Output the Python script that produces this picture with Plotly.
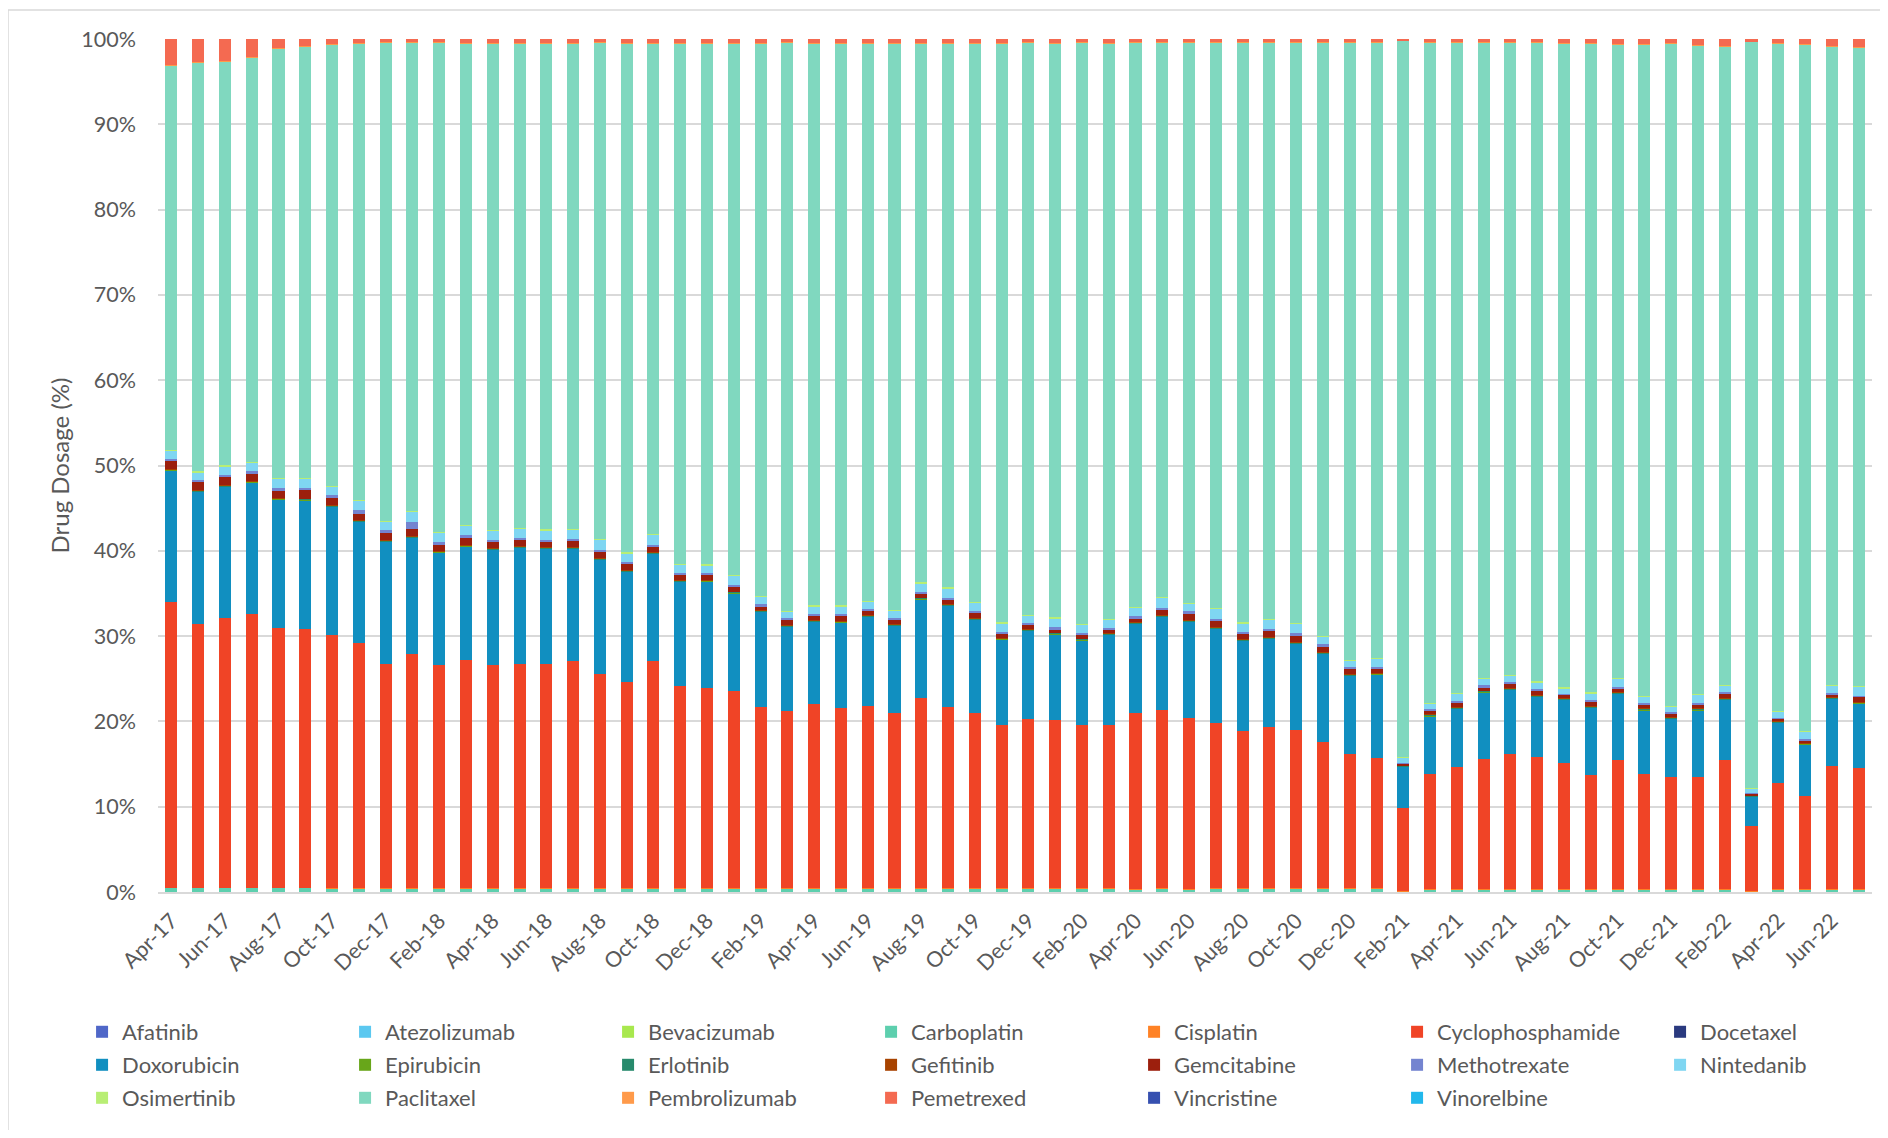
import plotly.graph_objects as go

months = ["Apr-17", "May-17", "Jun-17", "Jul-17", "Aug-17", "Sep-17", "Oct-17", "Nov-17", "Dec-17",
          "Jan-18", "Feb-18", "Mar-18", "Apr-18", "May-18", "Jun-18", "Jul-18", "Aug-18", "Sep-18",
          "Oct-18", "Nov-18", "Dec-18", "Jan-19", "Feb-19", "Mar-19", "Apr-19", "May-19", "Jun-19",
          "Jul-19", "Aug-19", "Sep-19", "Oct-19", "Nov-19", "Dec-19", "Jan-20", "Feb-20", "Mar-20",
          "Apr-20", "May-20", "Jun-20", "Jul-20", "Aug-20", "Sep-20", "Oct-20", "Nov-20", "Dec-20",
          "Jan-21", "Feb-21", "Mar-21", "Apr-21", "May-21", "Jun-21", "Jul-21", "Aug-21", "Sep-21",
          "Oct-21", "Nov-21", "Dec-21", "Jan-22", "Feb-22", "Mar-22", "Apr-22", "May-22", "Jun-22",
          "Jul-22"]

# % of monthly dosage per drug
afatinib = [0, 0, 0, 0, 0, 0, 0, 0, 0, 0, 0, 0, 0, 0, 0, 0, 0, 0, 0, 0, 0, 0, 0, 0, 0, 0, 0, 0, 0, 0, 0, 0,
            0, 0, 0, 0, 0, 0, 0, 0, 0, 0, 0, 0, 0, 0, 0, 0, 0, 0, 0, 0, 0, 0, 0, 0, 0, 0, 0, 0, 0, 0, 0, 0]
atezolizumab = [0, 0, 0, 0, 0, 0, 0, 0, 0, 0, 0, 0, 0, 0, 0, 0, 0, 0, 0, 0, 0, 0, 0, 0, 0, 0, 0, 0, 0, 0, 0, 0,
                0, 0, 0, 0, 0, 0, 0, 0, 0, 0, 0, 0, 0, 0, 0, 0, 0, 0, 0, 0, 0, 0, 0, 0, 0, 0, 0, 0, 0, 0, 0, 0]
bevacizumab = [0, 0, 0, 0, 0, 0, 0, 0, 0, 0, 0, 0, 0, 0, 0, 0, 0, 0, 0, 0, 0, 0, 0, 0, 0, 0, 0, 0, 0, 0, 0, 0,
               0, 0, 0, 0, 0, 0, 0, 0, 0, 0, 0, 0, 0, 0, 0, 0, 0, 0, 0, 0, 0, 0, 0, 0, 0, 0, 0, 0, 0, 0, 0, 0]
carboplatin = [0.5, 0.5, 0.5, 0.5, 0.5, 0.5, 0.4, 0.4, 0.4, 0.4, 0.4, 0.4, 0.4, 0.4, 0.4, 0.4,
               0.4, 0.4, 0.4, 0.4, 0.4, 0.4, 0.4, 0.4, 0.4, 0.4, 0.4, 0.4, 0.4, 0.4, 0.4, 0.4,
               0.4, 0.4, 0.4, 0.4, 0.3, 0.4, 0.3, 0.4, 0.4, 0.4, 0.4, 0.4, 0.4, 0.4, 0.1, 0.3,
               0.3, 0.3, 0.3, 0.3, 0.3, 0.3, 0.3, 0.3, 0.3, 0.3, 0.3, 0.1, 0.3, 0.3, 0.3, 0.3]
cisplatin = [0.02, 0.02, 0.02, 0.02, 0.02, 0.02, 0.02, 0.02, 0.02, 0.02, 0.02, 0.02, 0.02, 0.02, 0.02, 0.02,
             0.02, 0.02, 0.02, 0.02, 0.02, 0.02, 0.02, 0.02, 0.02, 0.02, 0.02, 0.02, 0.02, 0.02, 0.02, 0.02,
             0.02, 0.02, 0.02, 0.02, 0.02, 0.02, 0.02, 0.02, 0.02, 0.02, 0.02, 0.02, 0.02, 0.02, 0.01, 0.02,
             0.02, 0.02, 0.02, 0.02, 0.02, 0.02, 0.02, 0.02, 0.02, 0.02, 0.02, 0.01, 0.02, 0.02, 0.02, 0.02]
cyclophosphamide = [33.4, 30.9, 31.6, 32.1, 30.4, 30.3, 29.7, 28.7, 26.3, 27.5,
                    26.2, 26.8, 26.2, 26.3, 26.3, 26.7, 25.1, 24.2, 26.6, 23.7,
                    23.5, 23.1, 21.3, 20.8, 21.6, 21.1, 21.4, 20.6, 22.3, 21.2,
                    20.6, 19.2, 19.9, 19.7, 19.2, 19.1, 20.6, 20.9, 20.1, 19.4,
                    18.5, 18.9, 18.6, 17.1, 15.8, 15.3, 9.7, 13.5, 14.3, 15.3,
                    15.8, 15.5, 14.8, 13.4, 15.1, 13.5, 13.2, 13.1, 15.1, 7.6,
                    12.4, 10.9, 14.5, 14.2]
docetaxel = [0, 0, 0, 0, 0, 0, 0, 0, 0, 0, 0, 0, 0, 0, 0, 0, 0, 0, 0, 0, 0, 0, 0, 0, 0, 0, 0, 0, 0, 0, 0, 0,
             0, 0, 0, 0, 0, 0, 0, 0, 0, 0, 0, 0, 0, 0, 0, 0, 0, 0, 0, 0, 0, 0, 0, 0, 0, 0, 0, 0, 0, 0, 0, 0]
doxorubicin = [15.5, 15.5, 15.4, 15.4, 15.1, 15.1, 15.0, 14.3, 14.3, 13.6,
               13.2, 13.3, 13.5, 13.6, 13.5, 13.1, 13.4, 12.9, 12.6, 12.2,
               12.5, 11.5, 11.1, 9.9, 9.7, 10.1, 10.4, 10.2, 11.6, 11.9,
               10.9, 10.0, 10.3, 10.1, 9.9, 10.6, 10.5, 10.9, 11.3, 11.0,
               10.5, 10.4, 10.1, 10.4, 9.1, 9.8, 4.9, 6.8, 6.9, 7.8,
               7.6, 7.1, 7.4, 7.9, 7.8, 7.5, 6.8, 7.9, 7.1, 3.5,
               7.1, 6.1, 7.9, 7.6]
epirubicin = [0.03, 0.03, 0.03, 0.03, 0.03, 0.03, 0.03, 0.03, 0.03, 0.03, 0.03, 0.03, 0.03, 0.03, 0.03, 0.03,
              0.03, 0.03, 0.03, 0.03, 0.03, 0.03, 0.03, 0.03, 0.03, 0.03, 0.03, 0.03, 0.03, 0.03, 0.03, 0.03,
              0.03, 0.03, 0.03, 0.03, 0.03, 0.03, 0.03, 0.03, 0.03, 0.03, 0.03, 0.03, 0.03, 0.03, 0.02, 0.03,
              0.03, 0.03, 0.03, 0.03, 0.03, 0.03, 0.03, 0.03, 0.03, 0.03, 0.03, 0.02, 0.03, 0.03, 0.03, 0.03]
erlotinib = [0.1, 0.1, 0.1, 0.1, 0.1, 0.1, 0.1, 0.1, 0.1, 0.1, 0.1, 0.1, 0.1, 0.1, 0.1, 0.1,
             0.1, 0.1, 0.1, 0.1, 0.1, 0.1, 0.1, 0.1, 0.1, 0.1, 0.1, 0.1, 0.1, 0.1, 0.1, 0.1,
             0.1, 0.1, 0.1, 0.1, 0.1, 0.1, 0.1, 0.1, 0.1, 0.1, 0.1, 0.1, 0.1, 0.1, 0.05, 0.1,
             0.1, 0.1, 0.1, 0.1, 0.1, 0.1, 0.1, 0.1, 0.1, 0.1, 0.1, 0.05, 0.1, 0.1, 0.1, 0.1]
gefitinib = [0.05, 0.05, 0.05, 0.05, 0.05, 0.05, 0.05, 0.05, 0.05, 0.05, 0.05, 0.05, 0.05, 0.05, 0.05, 0.05,
             0.05, 0.05, 0.05, 0.05, 0.05, 0.05, 0.05, 0.05, 0.05, 0.05, 0.05, 0.05, 0.05, 0.05, 0.05, 0.05,
             0.05, 0.05, 0.05, 0.05, 0.05, 0.05, 0.05, 0.05, 0.05, 0.05, 0.05, 0.05, 0.05, 0.05, 0.02, 0.05,
             0.05, 0.05, 0.05, 0.05, 0.05, 0.05, 0.05, 0.05, 0.05, 0.05, 0.05, 0.02, 0.05, 0.05, 0.05, 0.05]
gemcitabine = [0.9, 0.9, 1.0, 0.8, 0.8, 1.0, 0.9, 0.7, 0.9, 0.8,
               0.7, 0.8, 0.8, 0.7, 0.7, 0.8, 0.8, 0.7, 0.7, 0.7,
               0.6, 0.6, 0.5, 0.6, 0.5, 0.6, 0.5, 0.5, 0.5, 0.5,
               0.6, 0.5, 0.5, 0.4, 0.5, 0.4, 0.5, 0.6, 0.7, 0.8,
               0.7, 0.7, 0.8, 0.7, 0.7, 0.5, 0.25, 0.5, 0.5, 0.4,
               0.5, 0.5, 0.4, 0.5, 0.4, 0.5, 0.4, 0.5, 0.5, 0.2,
               0.3, 0.3, 0.3, 0.6]
methotrexate = [0.2, 0.3, 0.2, 0.3, 0.3, 0.2, 0.3, 0.4, 0.3, 0.9,
                0.3, 0.3, 0.2, 0.3, 0.2, 0.2, 0.2, 0.3, 0.2, 0.2,
                0.2, 0.2, 0.2, 0.2, 0.2, 0.2, 0.3, 0.2, 0.2, 0.3,
                0.2, 0.2, 0.2, 0.2, 0.2, 0.2, 0.2, 0.3, 0.3, 0.2,
                0.2, 0.2, 0.2, 0.2, 0.2, 0.2, 0.1, 0.1, 0.2, 0.2,
                0.2, 0.2, 0.1, 0.2, 0.2, 0.1, 0.2, 0.1, 0.2, 0.1,
                0.1, 0.1, 0.1, 0.1]
nintedanib = [1.0, 0.9, 1.0, 1.0, 1.1, 1.1, 1.0, 1.2, 1.0, 1.2,
              1.1, 1.1, 1.0, 1.1, 1.1, 1.1, 1.2, 1.0, 1.2, 1.0,
              0.9, 1.1, 0.9, 0.8, 0.9, 0.9, 0.8, 0.9, 1.0, 1.1,
              1.0, 1.0, 0.9, 1.1, 0.9, 1.0, 1.0, 1.2, 0.9, 1.2,
              1.0, 1.1, 1.1, 0.9, 0.7, 0.9, 0.6, 0.7, 0.8, 0.8,
              0.8, 0.8, 0.7, 0.8, 1.0, 0.8, 0.6, 1.0, 0.8, 0.5,
              0.7, 0.9, 0.9, 1.1]
osimertinib = [0.08, 0.08, 0.08, 0.08, 0.08, 0.08, 0.08, 0.08, 0.08, 0.08, 0.08, 0.08, 0.08, 0.08, 0.08, 0.08,
               0.08, 0.08, 0.08, 0.08, 0.08, 0.08, 0.08, 0.08, 0.08, 0.08, 0.08, 0.08, 0.08, 0.08, 0.08, 0.08,
               0.08, 0.08, 0.08, 0.08, 0.08, 0.08, 0.08, 0.08, 0.08, 0.08, 0.08, 0.08, 0.08, 0.08, 0.04, 0.08,
               0.08, 0.08, 0.08, 0.08, 0.08, 0.08, 0.08, 0.08, 0.08, 0.08, 0.08, 0.04, 0.08, 0.08, 0.08, 0.08]
paclitaxel = [45.0, 47.9, 47.3, 47.4, 50.4, 50.6, 51.7, 53.4, 56.0, 54.8,
              57.3, 56.4, 57.0, 56.7, 56.9, 56.8, 58.1, 59.6, 57.4, 60.9,
              61.0, 62.2, 64.7, 66.5, 65.8, 65.8, 65.3, 66.3, 63.1, 63.7,
              65.4, 67.8, 67.0, 67.2, 68.1, 67.4, 66.2, 65.0, 65.7, 66.2,
              67.9, 67.5, 68.0, 69.5, 72.4, 72.1, 83.9, 77.4, 76.3, 74.5,
              74.1, 74.9, 75.4, 76.0, 74.2, 76.3, 77.6, 76.0, 74.8, 87.4,
              78.2, 80.4, 74.9, 74.8]
pembrolizumab = [0.06, 0.06, 0.06, 0.06, 0.06, 0.06, 0.06, 0.06, 0.06, 0.06, 0.06, 0.06, 0.06, 0.06, 0.06, 0.06,
                 0.06, 0.06, 0.06, 0.06, 0.06, 0.06, 0.06, 0.06, 0.06, 0.06, 0.06, 0.06, 0.06, 0.06, 0.06, 0.06,
                 0.06, 0.06, 0.06, 0.06, 0.06, 0.06, 0.06, 0.06, 0.06, 0.06, 0.06, 0.06, 0.06, 0.06, 0.03, 0.06,
                 0.06, 0.06, 0.06, 0.06, 0.06, 0.06, 0.06, 0.06, 0.06, 0.06, 0.06, 0.03, 0.06, 0.06, 0.06, 0.06]
pemetrexed = [3.1, 2.7, 2.6, 2.1, 1.0, 0.8, 0.6, 0.5, 0.4, 0.4,
              0.4, 0.5, 0.5, 0.5, 0.5, 0.5, 0.4, 0.5, 0.5, 0.5,
              0.5, 0.5, 0.5, 0.4, 0.5, 0.5, 0.5, 0.5, 0.5, 0.5,
              0.5, 0.5, 0.4, 0.5, 0.4, 0.5, 0.3, 0.3, 0.3, 0.4,
              0.4, 0.4, 0.4, 0.4, 0.3, 0.4, 0.15, 0.3, 0.3, 0.3,
              0.3, 0.3, 0.5, 0.5, 0.6, 0.6, 0.5, 0.7, 0.8, 0.3,
              0.5, 0.6, 0.8, 0.9]
vincristine = [0, 0, 0, 0, 0, 0, 0, 0, 0, 0, 0, 0, 0, 0, 0, 0, 0, 0, 0, 0, 0, 0, 0, 0, 0, 0, 0, 0, 0, 0, 0, 0,
               0, 0, 0, 0, 0, 0, 0, 0, 0, 0, 0, 0, 0, 0, 0, 0, 0, 0, 0, 0, 0, 0, 0, 0, 0, 0, 0, 0, 0, 0, 0, 0]
vinorelbine = [0, 0, 0, 0, 0, 0, 0, 0, 0, 0, 0, 0, 0, 0, 0, 0, 0, 0, 0, 0, 0, 0, 0, 0, 0, 0, 0, 0, 0, 0, 0, 0,
               0, 0, 0, 0, 0, 0, 0, 0, 0, 0, 0, 0, 0, 0, 0, 0, 0, 0, 0, 0, 0, 0, 0, 0, 0, 0, 0, 0, 0, 0, 0, 0]

drugs = [
    ("Afatinib", afatinib, "#4F67C8"),
    ("Atezolizumab", atezolizumab, "#5BC8F0"),
    ("Bevacizumab", bevacizumab, "#A8E84E"),
    ("Carboplatin", carboplatin, "#5DCFAE"),
    ("Cisplatin", cisplatin, "#FF8225"),
    ("Cyclophosphamide", cyclophosphamide, "#F04426"),
    ("Docetaxel", docetaxel, "#2A3A7F"),
    ("Doxorubicin", doxorubicin, "#118FC0"),
    ("Epirubicin", epirubicin, "#68A61A"),
    ("Erlotinib", erlotinib, "#278A6C"),
    ("Gefitinib", gefitinib, "#A84300"),
    ("Gemcitabine", gemcitabine, "#9C1F0D"),
    ("Methotrexate", methotrexate, "#7484D0"),
    ("Nintedanib", nintedanib, "#7FD6F2"),
    ("Osimertinib", osimertinib, "#B8EE74"),
    ("Paclitaxel", paclitaxel, "#80D8BF"),
    ("Pembrolizumab", pembrolizumab, "#FF9A4A"),
    ("Pemetrexed", pemetrexed, "#F46A51"),
    ("Vincristine", vincristine, "#3650B0"),
    ("Vinorelbine", vinorelbine, "#22B8EC"),
]

grey = "#595959"
legend_names = ["legend", "legend2", "legend3"]

fig = go.Figure()
for i, (name, vals, col) in enumerate(drugs):
    fig.add_trace(go.Bar(x=months, y=vals, name=name, marker_color=col, marker_line_width=0,
                         legend=legend_names[i // 7]))

legend_style = dict(orientation="h", traceorder="normal", x=-0.0443, xanchor="left",
                    yanchor="middle", entrywidth=218, entrywidthmode="pixels",
                    bgcolor="rgba(0,0,0,0)", font=dict(size=22, color=grey))

fig.update_layout(
    width=1872, height=1122,
    barmode="stack", barnorm="percent", bargap=0.55,
    plot_bgcolor="white", paper_bgcolor="white",
    font=dict(family="Lato", size=21, color=grey),
    margin=dict(l=150, r=8, t=31, b=238, autoexpand=False),
    legend=dict(legend_style, y=-0.1641),
    legend2=dict(legend_style, y=-0.2028),
    legend3=dict(legend_style, y=-0.2415),
    xaxis=dict(type="category", range=[-0.5, 63.5], tickvals=months[::2], tickangle=-45,
               ticks="", showline=True, linecolor="#D9D9D9", linewidth=1.5, showgrid=False,
               ticklabelstandoff=6, tickfont=dict(size=21.5, color=grey)),
    xaxis2=dict(overlaying="x", anchor="y", side="bottom", range=[-0.5, 63.5],
                tickvals=[i - 0.5 for i in range(0, 65, 2)], ticks="outside", ticklen=8,
                tickcolor="#D9D9D9", tickwidth=1.5, showticklabels=False, showgrid=False,
                showline=False, zeroline=False),
    yaxis=dict(range=[0, 100], dtick=10, ticksuffix="%", showgrid=True, gridcolor="#D9D9D9",
               gridwidth=1.5, zeroline=False, ticks="", ticklabelstandoff=21,
               title=dict(text="Drug Dosage (%)", standoff=4, font=dict(size=24, color=grey)),
               tickfont=dict(size=21.5, color=grey)),
    shapes=[dict(type="rect", xref="paper", yref="paper", x0=-150 / 1714, x1=1.0 + 40 / 1714,
                 y0=-300 / 853, y1=1 + 29 / 853, line=dict(color="#D9D9D9", width=1.5))],
)

fig.write_html("out.html")
